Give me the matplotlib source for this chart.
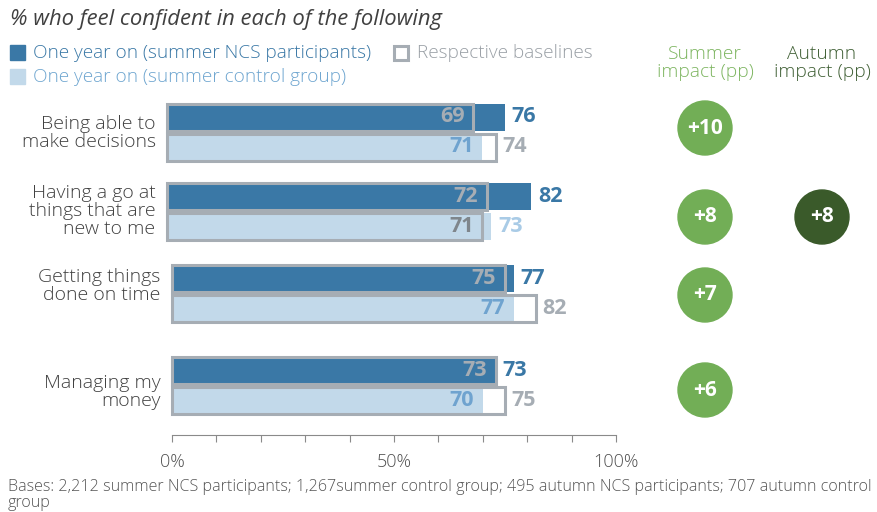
import matplotlib.pyplot as plt
from matplotlib.patches import Circle, Rectangle

categories = ["Being able to\nmake decisions",
              "Having a go at\nthings that are\nnew to me",
              "Getting things\ndone on time",
              "Managing my\nmoney"]
ncs_year = [76, 82, 77, 73]
ncs_base = [69, 72, 75, 73]
ctrl_year = [71, 73, 77, 70]
ctrl_base = [74, 71, 82, 75]
summer_impact = [10, 8, 7, 6]
autumn_impact = [None, 8, None, None]
tick_labels = ["0%", "50%", "100%"]

DARK = "#3A78A6"
LIGHT = "#C2D9EA"
GRAY = "#A6ADB4"
GREEN = "#72AE56"
DGREEN = "#3A5A2A"
TXT = "#404040"

plt.rcParams['font.family'] = ['Open Sans', 'DejaVu Sans']
LW = 'light'

W, H = 877, 512
fig = plt.figure(figsize=(8.77, 5.12), dpi=100)

# overlay axes in pixel units
ov = fig.add_axes([0, 0, 1, 1])
ov.set_xlim(0, W)
ov.set_ylim(H, 0)
ov.axis('off')

# bar axes: 0..100% -> px 172..616, axis line at y=435
x0, x1, yb = 172, 616, 435
ax = fig.add_axes([x0 / W, (H - yb) / H, (x1 - x0) / W, yb / H])
ax.set_xlim(0, 100)
ax.set_ylim(yb, 0)
ax.patch.set_alpha(0)
for s in ['top', 'right', 'left']:
    ax.spines[s].set_visible(False)
ax.spines['bottom'].set_color('#8A8A8A')
ax.set_yticks([])
ax.set_xticks(range(0, 101, 10))
ax.set_xticklabels([tick_labels[k // 5] if k % 5 == 0 else "" for k in range(11)],
                   fontweight=LW)
ax.tick_params(axis='x', colors='#8A8A8A', length=5, pad=8, labelsize=13,
               labelcolor='#505050')

centers = [132, 211, 293, 385]
label_y = [133, 211, 286, 392]
circle_y = [128, 217, 295, 390]
shift = [-1.1, -1.1, 0, 0]
bh = 27
pad = 2.0
NUM = 15.5

for i in range(4):
    yd, yl, off = centers[i] - 15, centers[i] + 15, shift[i]
    # NCS participants
    ax.barh(yd, ncs_year[i], left=off, height=bh, color=DARK, clip_on=False)
    ax.barh(yd, ncs_base[i], left=off, height=bh, fill=False, edgecolor=GRAY,
            linewidth=2.2, clip_on=False)
    ax.text(off + ncs_base[i] - pad, yd, str(ncs_base[i]), ha='right', va='center',
            color=GRAY, fontsize=NUM, fontweight='bold')
    ax.text(off + max(ncs_year[i], ncs_base[i]) + 1.5, yd, str(ncs_year[i]),
            ha='left', va='center', color=DARK, fontsize=NUM, fontweight='bold')
    # control group
    ax.barh(yl, ctrl_year[i], left=off, height=bh, color=LIGHT, clip_on=False)
    ax.barh(yl, ctrl_base[i], left=off, height=bh, fill=False, edgecolor=GRAY,
            linewidth=2.2, clip_on=False)
    if ctrl_year[i] <= ctrl_base[i]:
        ax.text(off + ctrl_year[i] - pad, yl, str(ctrl_year[i]), ha='right',
                va='center', color="#6FA3CF", fontsize=NUM, fontweight='bold')
        ax.text(off + ctrl_base[i] + 1.5, yl, str(ctrl_base[i]), ha='left',
                va='center', color=GRAY, fontsize=NUM, fontweight='bold')
    else:
        ax.text(off + ctrl_base[i] - pad, yl, str(ctrl_base[i]), ha='right',
                va='center', color="#7F868C", fontsize=NUM, fontweight='bold')
        ax.text(off + ctrl_year[i] + 1.5, yl, str(ctrl_year[i]), ha='left',
                va='center', color="#A9CBE6", fontsize=NUM, fontweight='bold')
    # category label
    ax.text(off - 2.6, label_y[i], categories[i], ha='right', va='center',
            color=TXT, fontsize=14, linespacing=1.0, fontweight=LW)

# impact circles
for i in range(4):
    cy = circle_y[i]
    if summer_impact[i] is not None:
        ov.add_patch(Circle((705, cy), 27, color=GREEN))
        ov.text(705, cy, "+%d" % summer_impact[i], ha='center', va='center',
                color='white', fontsize=15, fontweight='bold')
    if autumn_impact[i] is not None:
        ov.add_patch(Circle((822, cy), 27, color=DGREEN))
        ov.text(822, cy, "+%d" % autumn_impact[i], ha='center',
                va='center', color='white', fontsize=15, fontweight='bold')

ov.text(705, 63, "Summer\nimpact (pp)", ha='center', va='center', color="#7DB560",
        fontsize=13.8, linespacing=0.95, fontweight=LW)
ov.text(822, 63, "Autumn\nimpact (pp)", ha='center', va='center', color="#3F5F34",
        fontsize=13.8, linespacing=0.95, fontweight=LW)

# title and legend
ov.text(10, 20, "% who feel confident in each of the following", ha='left',
        va='center', color=TXT, fontsize=15.8, style='italic')
ov.add_patch(Rectangle((10, 45), 15, 15, color=DARK))
ov.text(33, 53, "One year on (summer NCS participants)", ha='left', va='center',
        color=DARK, fontsize=13.7, fontweight=LW)
ov.add_patch(Rectangle((10, 69), 15, 15, color=LIGHT))
ov.text(33, 77, "One year on (summer control group)", ha='left', va='center',
        color="#6FA6D0", fontsize=13.7, fontweight=LW)
ov.add_patch(Rectangle((394, 46), 14, 14, fill=False, edgecolor=GRAY, linewidth=2.2))
ov.text(417, 53, "Respective baselines", ha='left', va='center', color="#9AA0A6",
        fontsize=13.7, fontweight=LW)

# footer
ov.text(8, 495, "Bases: 2,212 summer NCS participants; 1,267summer control group; "
        "495 autumn NCS participants; 707 autumn control\ngroup", ha='left',
        va='center', color="#555555", fontsize=11.6, linespacing=0.95, fontweight=LW)

fig.savefig("out.png", dpi=100)
